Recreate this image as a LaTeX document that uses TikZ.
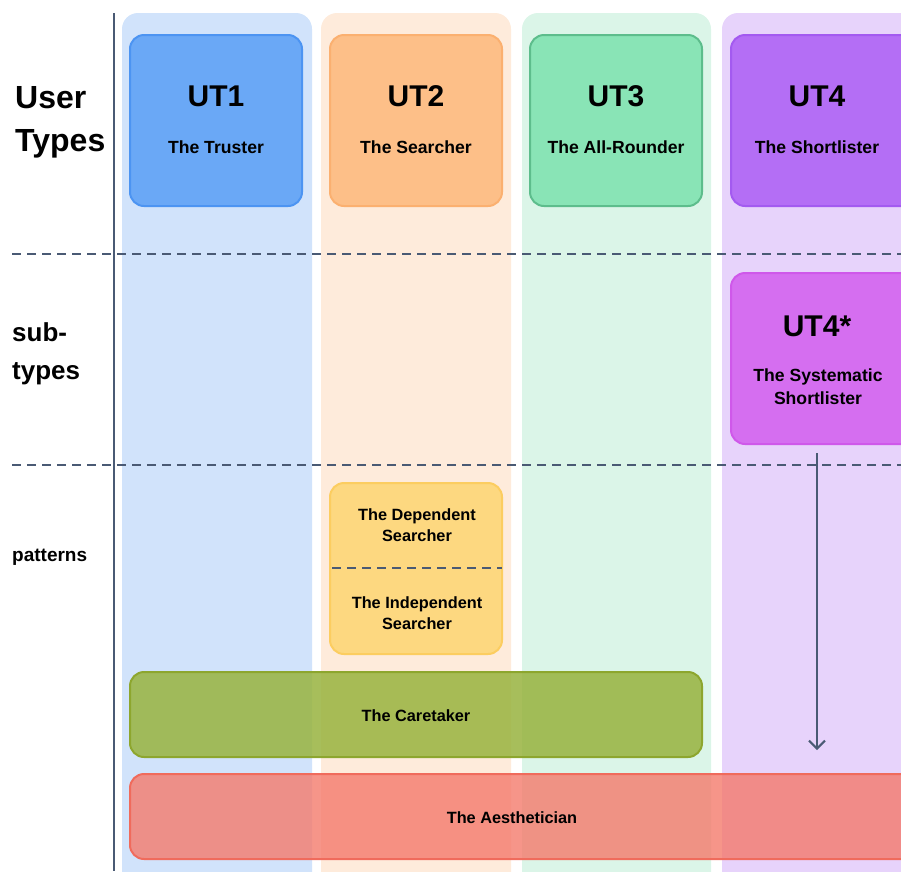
\documentclass[tikz,border=0pt]{standalone}
\usepackage{fontspec}
\setmainfont{Liberation Sans}
\usetikzlibrary{arrows.meta}
\definecolor{lineC}{HTML}{4A5A74}
\definecolor{bgA}{HTML}{D1E3FB}
\definecolor{bgB}{HTML}{FEEBDB}
\definecolor{bgC}{HTML}{DBF5E8}
\definecolor{bgD}{HTML}{E7D3FB}
\definecolor{utAf}{HTML}{6AA8F6}\definecolor{utAd}{HTML}{4C94F2}
\definecolor{utBf}{HTML}{FDBF88}\definecolor{utBd}{HTML}{FBB070}
\definecolor{utCf}{HTML}{89E4B6}\definecolor{utCd}{HTML}{5DBD8C}
\definecolor{utDf}{HTML}{B46EF5}\definecolor{utDd}{HTML}{A35AF0}
\definecolor{utEf}{HTML}{D56EF0}\definecolor{utEd}{HTML}{CF58EA}
\definecolor{patf}{HTML}{FDD880}\definecolor{patd}{HTML}{FCCD60}
\definecolor{caref}{HTML}{98B33E}\definecolor{cared}{HTML}{8DA62E}
\definecolor{aesf}{HTML}{F47A6C}\definecolor{aesd}{HTML}{F06B5C}
\tikzset{
  colbg/.style={rounded corners=16pt, draw=none},
  utbox/.style={rounded corners=14pt, line width=2pt},
  dashline/.style={lineC, line width=2pt, dash pattern=on 9pt off 6pt},
  big/.style={font=\fontsize{30}{34}\selectfont\bfseries},
  sub/.style={font=\fontsize{17.6}{23}\selectfont\bfseries, align=center},
  pat/.style={font=\fontsize{16.3}{21}\selectfont\bfseries, align=center},
}
\begin{document}
\begin{tikzpicture}[x=1pt,y=-1pt]
\useasboundingbox (0,0) rectangle (901,871);
\begin{scope}
\clip (0,0) rectangle (901,871);
% columns
\fill[bgA, colbg] (122,13) rectangle (312,890);
\fill[bgB, colbg] (321,13) rectangle (511,890);
\fill[bgC, colbg] (522,13) rectangle (711,890);
\fill[bgD, colbg] (722,13) rectangle (930,890);
% UT boxes
\draw[utbox, fill=utAf, draw=utAd] (130,35) rectangle (302,206);
\draw[utbox, fill=utBf, draw=utBd] (330,35) rectangle (502,206);
\draw[utbox, fill=utCf, draw=utCd] (530,35) rectangle (702,206);
\draw[utbox, fill=utDf, draw=utDd] (731,35) rectangle (915,206);
\draw[utbox, fill=utEf, draw=utEd] (731,273) rectangle (915,444);
\draw[utbox, fill=patf, draw=patd] (330,483) rectangle (502,654);
\draw[utbox, fill=caref, fill opacity=0.85, draw=cared] (130,672) rectangle (702,757);
\draw[utbox, fill=aesf, fill opacity=0.8, draw=aesd] (130,774) rectangle (915,859);
\end{scope}
% axis line
\draw[lineC, line width=2pt] (114,13) -- (114,871);
% dashed separators
\draw[dashline] (12,254) -- (901,254);
\draw[dashline] (12,465) -- (901,465);
\draw[dashline] (332,568) -- (502,568);
% labels
\node[anchor=west, inner sep=0pt, font=\fontsize{32}{43}\selectfont\bfseries, align=left] (lUT) at (15,122) {User\\Types};
\node[anchor=west, inner sep=0pt, font=\fontsize{26}{38}\selectfont\bfseries, align=left] (lSub) at (12,354) {sub-\\types};
\node[anchor=west, inner sep=0pt, font=\fontsize{19}{22}\selectfont\bfseries] (lPat) at (12,557) {patterns};
% UT texts
\node[big] (t1) at (216,96) {UT1};
\node[sub] (s1) at (216,147) {The Truster};
\node[big] (t2) at (416,96) {UT2};
\node[sub] (s2) at (416,147) {The Searcher};
\node[big] (t3) at (616,96) {UT3};
\node[sub] (s3) at (616,147) {The All-Rounder};
\node[big] (t4) at (817,96) {UT4};
\node[sub] (s4) at (817,147) {The Shortlister};
\node[big] (t5) at (817,326) {UT4*};
\node[sub] (s5) at (818,387) {The Systematic\\Shortlister};
\node[pat] (p1) at (417,525) {The Dependent\\Searcher};
\node[pat] (p2) at (417,613) {The Independent\\Searcher};
\node[pat] (care) at (416,716) {The Caretaker};
\node[pat] (aes) at (512,818) {The Aesthetician};
% arrow
\coordinate (aS) at (817,453);
\coordinate (aE) at (817,750);
\draw[lineC, line width=2pt, -{Straight Barb[length=8pt, width=16pt, line width=2pt]}] (aS) -- (aE);
\end{tikzpicture}
\end{document}
